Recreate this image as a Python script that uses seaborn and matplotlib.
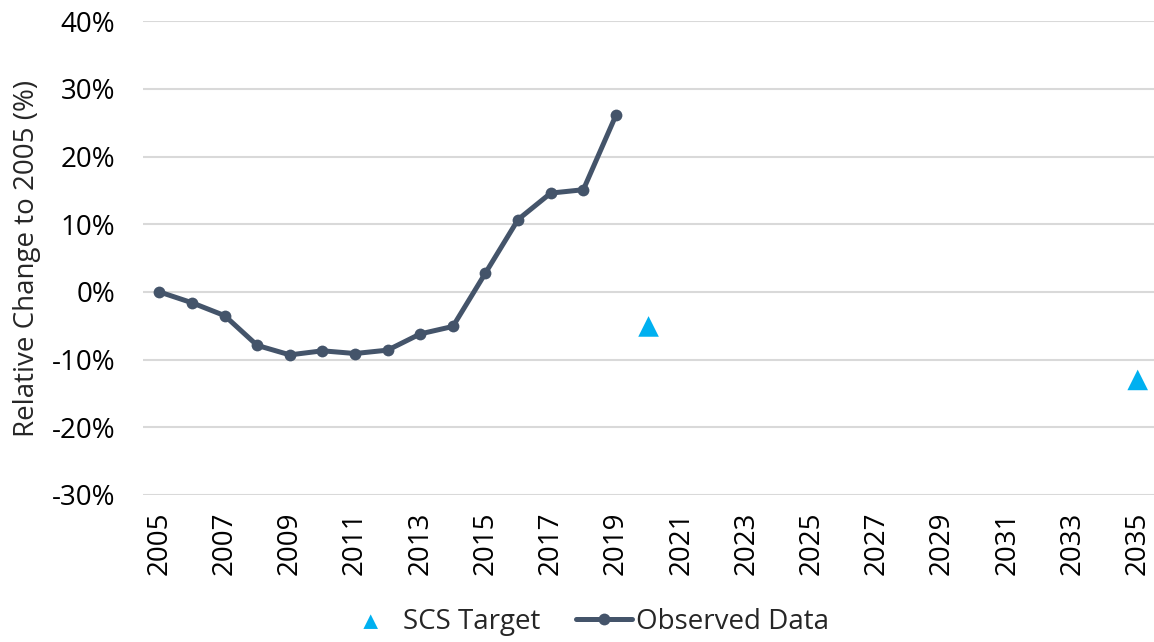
import matplotlib
matplotlib.use("Agg")
from matplotlib import pyplot as plt
from matplotlib.ticker import FuncFormatter
import pandas as pd
import seaborn as sns

# Observed data, relative change to 2005 (%)
obs_years = [2005, 2006, 2007, 2008, 2009, 2010, 2011, 2012, 2013, 2014, 2015, 2016, 2017, 2018, 2019]
obs_values = [0.0, -1.6, -3.5, -7.9, -9.3, -8.7, -9.1, -8.6, -6.2, -5.1, 2.8, 10.7, 14.6, 15.1, 26.1]

# SCS targets
target_years = [2020, 2035]
target_values = [-5.1, -13.0]

tick_years = list(range(2005, 2036, 2))

observed = pd.DataFrame({"Year": obs_years, "Change": obs_values})
targets = pd.DataFrame({"Year": target_years, "Change": target_values})

sns.set_style("white")
plt.rcParams["font.family"] = ["Open Sans", "DejaVu Sans"]

fig = plt.figure(figsize=(11.54, 6.42), dpi=100)
ax = fig.add_axes([0.124, 0.229, 0.876, 0.738])

sns.scatterplot(data=targets, x="Year", y="Change", marker="^", s=220,
                color="#00B0F0", edgecolor="none", label="SCS Target", ax=ax, zorder=3)
sns.lineplot(data=observed, x="Year", y="Change", color="#44546A", linewidth=3.6,
             marker="o", markersize=8.5, markeredgewidth=0, label="Observed Data", ax=ax, zorder=4)

ax.set_xlim(2004.5, 2035.5)
ax.set_ylim(-30, 40)
ax.set_yticks(range(-30, 41, 10))
ax.yaxis.set_major_formatter(FuncFormatter(lambda v, p: f"{v:.0f}%"))
ax.set_xticks(tick_years)
ax.set_xticklabels([str(y) for y in tick_years], rotation=90)
ax.tick_params(axis="both", labelsize=20, length=0, colors="black")
ax.tick_params(axis="x", pad=12)
ax.tick_params(axis="y", pad=20)

ax.grid(axis="y", color="#D9D9D9", linewidth=1.5)
ax.set_axisbelow(True)
for s in ax.spines.values():
    s.set_visible(False)

ax.set_xlabel("")
ax.set_ylabel("Relative Change to 2005 (%)", fontsize=20, labelpad=8)

leg = ax.legend(loc="center", bbox_to_anchor=(0.438, -0.268), ncol=2, frameon=False,
                fontsize=20, handlelength=2.0, columnspacing=1.3, handletextpad=0.15)
leg.legend_handles[0].set_sizes([110])

fig.savefig("out.png", dpi=100)
